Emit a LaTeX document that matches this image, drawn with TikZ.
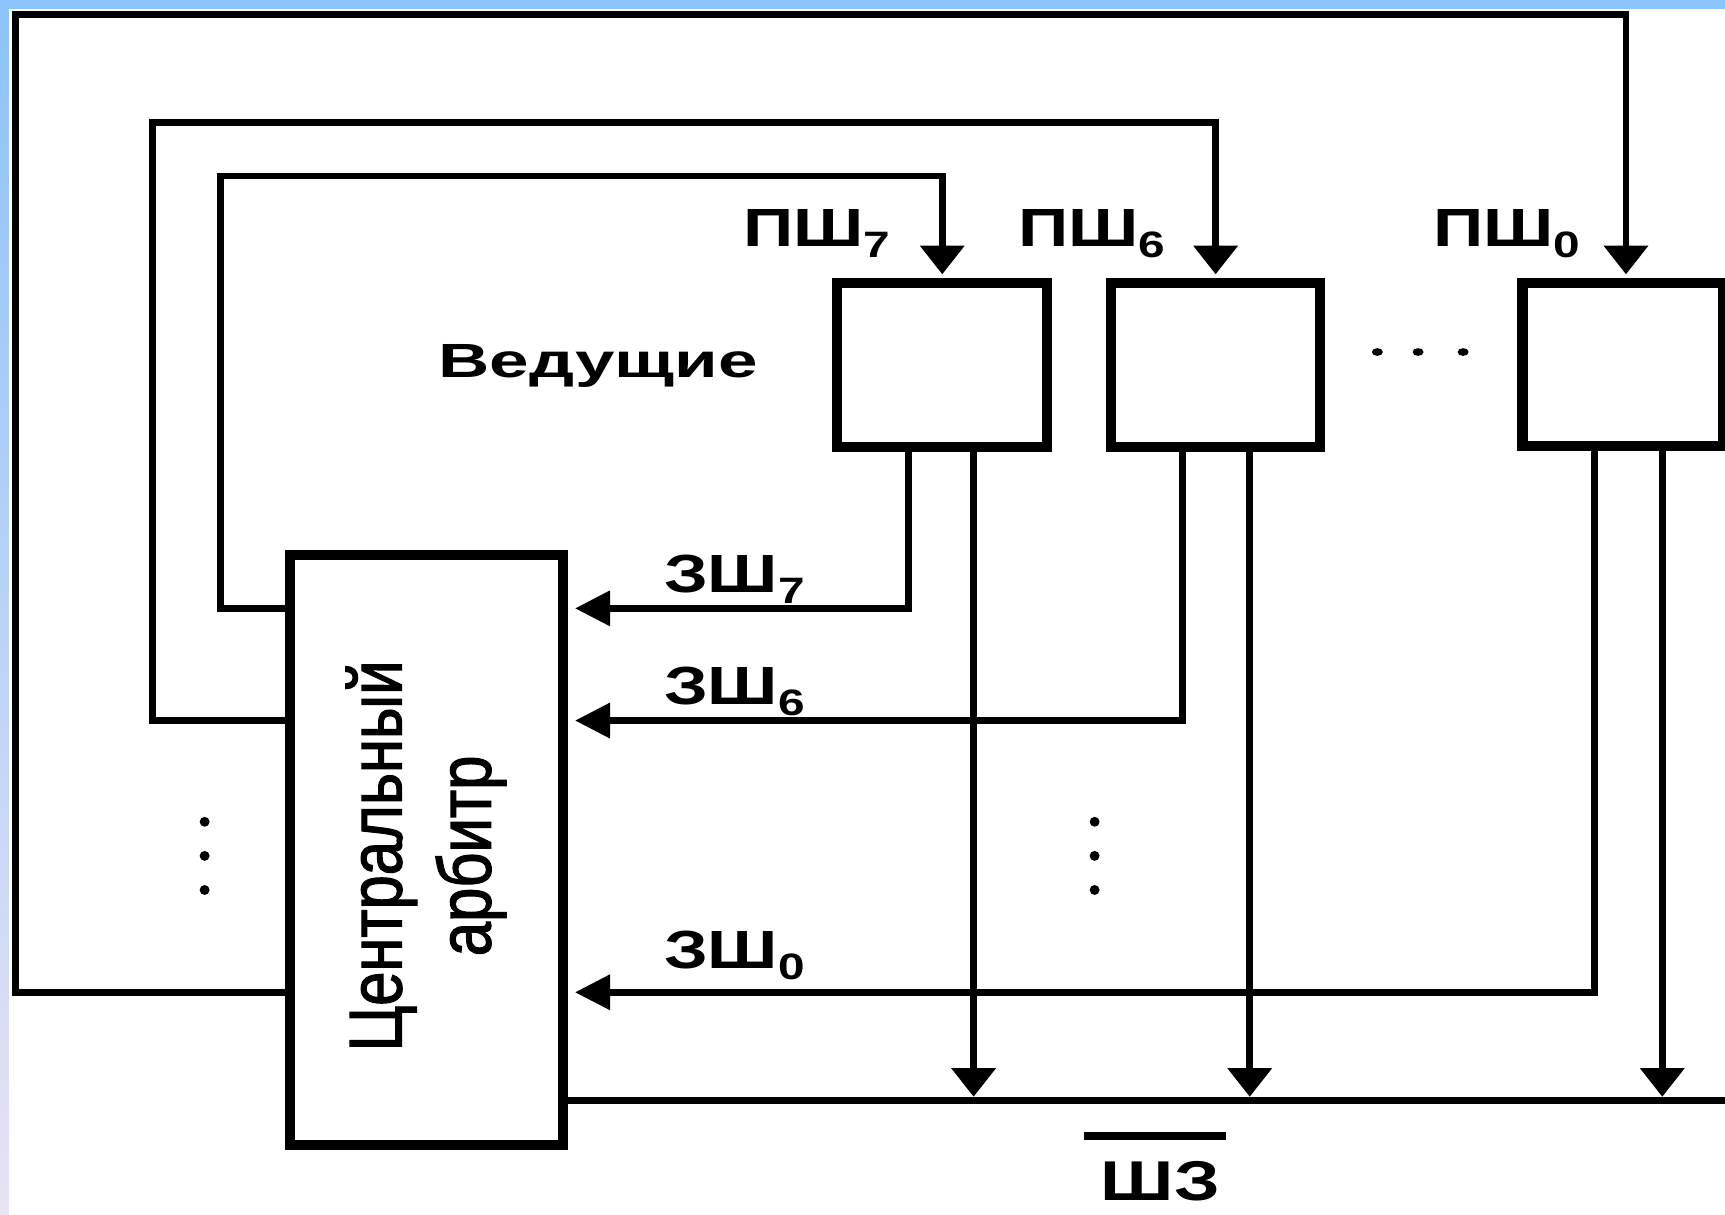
\documentclass[tikz,border=0pt]{standalone}
\usepackage{fontspec}
\setmainfont{Liberation Sans}
\newfontfamily\labfont[FakeStretch=1.3]{Liberation Sans Bold}
\newfontfamily\vedfont[FakeStretch=1.48]{Liberation Sans Bold}
\newfontfamily\rotfont[FakeStretch=0.82, FakeBold=1.6]{Liberation Sans}
\usetikzlibrary{arrows.meta}
\definecolor{bandblue}{HTML}{8CC3FA}
\definecolor{bandlav}{HTML}{E8E2F4}
\newcommand\lsub[1]{\raisebox{-0.1cm}{\fontsize{9.5pt}{9.5pt}\selectfont #1}}
\begin{document}
\begin{tikzpicture}[x=0.01cm,y=-0.01cm,
  conn/.style={line width=1.8pt},
  box/.style={draw, line width=2.6pt, inner sep=0pt},
  varr/.style={conn,-{Triangle[length=0.26cm,width=0.39cm]}, shorten >=0.03cm},
  harr/.style={conn,-{Triangle[length=0.32cm,width=0.31cm]}, shorten >=0.06cm},
  lab/.style={inner sep=0pt, anchor=base west, font=\labfont\fontsize{13.9pt}{14pt}\selectfont},
]
\useasboundingbox (0,0) rectangle (1568,1104);
\fill[white] (0,0) rectangle (1568,1104);

% masters
\node[box, minimum width=1.91cm, minimum height=1.49cm] (m7) at (856.5,331.5) {};
\node[box, minimum width=1.90cm, minimum height=1.49cm] (m6) at (1105,331.5) {};
\node[box, minimum width=1.82cm, minimum height=1.48cm] (m0) at (1475,331) {};
% arbiter
\node[box, minimum width=2.48cm, minimum height=5.36cm] (arb) at (388,773) {};
\node[rotate=90, anchor=base, inner sep=0pt, font=\rotfont\fontsize{19.4pt}{20pt}\selectfont] (c1) at (365,778) {Центральный};
\node[rotate=90, anchor=base, inner sep=0pt, font=\rotfont\fontsize{19.4pt}{20pt}\selectfont] (c2) at (446,778) {арбитр};

\node[inner sep=0pt, anchor=base west, font=\vedfont\fontsize{12.4pt}{13pt}\selectfont] (ved) at (398,343) {Ведущие};

% labels
\node[lab] (p7) at (675,224) {ПШ\lsub{7}};
\node[lab] (p6) at (925,224) {ПШ\lsub{6}};
\node[lab] (p0) at (1302,224) {ПШ\lsub{0}};
\node[lab] (z7) at (603,539) {ЗШ\lsub{7}};
\node[lab] (z6) at (603,640) {ЗШ\lsub{6}};
\node[lab] (z0) at (603,880) {ЗШ\lsub{0}};
\node[lab, font=\labfont\fontsize{14.5pt}{15pt}\selectfont] (sz) at (1000,1091) {ШЗ};
\draw[line width=1.9pt] ([xshift=-0.15cm,yshift=0.22cm]sz.north west) -- ([xshift=0.05cm,yshift=0.22cm]sz.north east);

\coordinate (busend) at (1568,1000);

% grant lines
\draw[varr] (arb.west |- 0,553) -- (200,553) -- (200,160) -- (856.5,160) -- (m7.north);
\draw[varr] (arb.west |- 0,655) -- (139,655) -- (139,111) -- (1105,111) -- (m6.north);
\draw[varr] (arb.west |- 0,902) -- (14,902) -- (14,13) -- (1478,13) -- (1478,0 |- m0.north);

% request lines
\draw[harr] (826,0 |- m7.south) -- (826,553) -- (arb.east |- 0,553);
\draw[harr] (1075,0 |- m6.south) -- (1075,655) -- (arb.east |- 0,655);
\draw[harr] (1449,0 |- m0.south) -- (1449,902) -- (arb.east |- 0,902);

% bus
\draw[conn] (arb.east |- busend) -- (busend);
\draw[varr] (885,0 |- m7.south) -- (885,0 |- busend);
\draw[varr] (1136,0 |- m6.south) -- (1136,0 |- busend);
\draw[varr] (1511,0 |- m0.south) -- (1511,0 |- busend);

% dots
\foreach \xx in {1252,1289,1330} \fill (\xx,320) ellipse [x radius=0.05cm, y radius=0.035cm];
\foreach \yy in {747,778,809} {
  \fill (186,\yy) circle [radius=0.045cm];
  \fill (995,\yy) circle [radius=0.045cm];
}

% background bands
\fill[bandblue] (0,0) rectangle (1568,8);
\shade[top color=bandblue, bottom color=bandlav] (0,8) rectangle (8,1104);
\end{tikzpicture}
\end{document}
